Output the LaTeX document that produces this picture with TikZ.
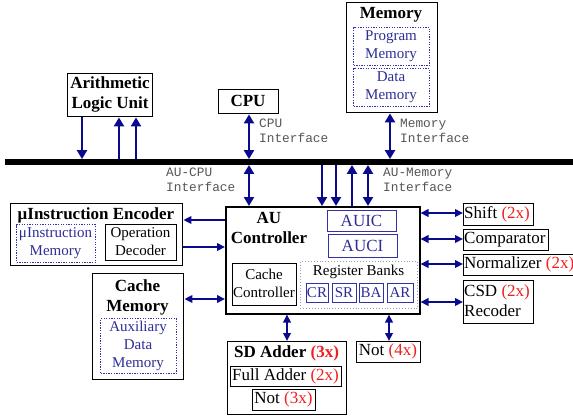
\documentclass[tikz,border=0pt]{standalone}
\usepackage{fontspec}
\setmainfont{Liberation Serif}
\newfontfamily\labelfont{Liberation Mono}
\usetikzlibrary{arrows.meta}
\definecolor{navy}{RGB}{10,10,140}
\definecolor{bluetext}{RGB}{45,45,150}
\definecolor{blueline}{RGB}{50,50,165}
\definecolor{softline}{RGB}{150,150,200}
\definecolor{countred}{RGB}{240,30,30}
\definecolor{labelgray}{RGB}{85,85,85}
\newcommand{\cnt}[1]{\textcolor{countred}{#1}}
\tikzset{
  box/.style={draw=black, line width=1.4pt, inner sep=0pt, anchor=north west},
  bluebox/.style={draw=blueline, line width=1.2pt, inner sep=0pt, anchor=north west},
  dotbox/.style={draw=blueline, line width=1.3pt, dash pattern=on 1.3pt off 1.3pt, inner sep=0pt, anchor=north west},
  softbox/.style={draw=softline, line width=0.9pt, dotted, inner sep=0pt, anchor=north west},
  big/.style={font=\fontsize{17}{20}\selectfont, inner sep=0pt, align=center},
  bigb/.style={font=\fontsize{17}{20}\selectfont\bfseries, inner sep=0pt, align=center},
  small/.style={font=\fontsize{15}{18}\selectfont, inner sep=0pt, align=center},
  smallblue/.style={small, text=bluetext},
  iflabel/.style={font=\fontsize{12.8}{15}\selectfont\labelfont, text=labelgray, inner sep=0pt, align=left, anchor=north west},
  vtip/.style={Triangle[width=10pt,length=9pt]},
  htip/.style={Triangle[width=7.5pt,length=8pt]},
  arr/.style={draw=navy, line width=2.6pt, -{Triangle[width=10pt,length=9pt]}},
  darr/.style={draw=navy, line width=2.6pt, {Triangle[width=10pt,length=9pt]}-{Triangle[width=10pt,length=9pt]}},
  harr/.style={draw=navy, line width=2pt, {Triangle[width=7.5pt,length=8pt]}-{Triangle[width=7.5pt,length=8pt]}},
  harrone/.style={draw=navy, line width=2pt, -{Triangle[width=7.5pt,length=8pt]}},
}
\begin{document}
\begin{tikzpicture}[x=1pt, y=-1pt]
\useasboundingbox (0,0) rectangle (573,416);

% system bus
\node[fill=black, inner sep=0pt, minimum width=568pt, minimum height=5.5pt, anchor=west] (bus) at (5,162) {};

% arithmetic logic unit
\node[box, minimum width=85pt, minimum height=43pt] (alu) at (67,73) {};
\node[bigb] (alut) at (110,94.5) {Arithmetic\\Logic Unit};

% CPU
\node[box, minimum width=60pt, minimum height=24pt] (cpu) at (218,89) {};
\node[bigb] (cput) at (248,101) {CPU};

% memory
\node[box, minimum width=91pt, minimum height=110pt] (mem) at (346,2) {};
\node[bigb] (memt) at (391,15) {Memory};
\node[dotbox, minimum width=76pt, minimum height=38pt] (prog) at (353,27) {};
\node[smallblue] (progt) at (391,46) {Program\\Memory};
\node[dotbox, minimum width=76pt, minimum height=38pt] (data) at (353,68) {};
\node[smallblue] (datat) at (391,87) {Data\\Memory};

% interface labels
\node[iflabel] (cpuif) at (259,119) {CPU\\Interface};
\node[iflabel] (memif) at (400,119) {Memory\\Interface};
\node[iflabel] (aucpuif) at (166,168) {AU-CPU\\Interface};
\node[iflabel] (aumemif) at (383,168) {AU-Memory\\Interface};

% microinstruction encoder
\node[box, minimum width=172pt, minimum height=62pt] (enc) at (10,203) {};
\node[bigb] (enct) at (96,215) {μInstruction Encoder};
\node[dotbox, minimum width=79pt, minimum height=38pt] (umem) at (16,224) {};
\node[smallblue] (umemt) at (55.5,243) {μInstruction\\Memory};
\node[box, line width=1.1pt, minimum width=71pt, minimum height=36pt] (opdec) at (105,224) {};
\node[small] (opdect) at (140.5,242) {Operation\\Decoder};

% cache memory
\node[box, minimum width=91pt, minimum height=106pt] (cache) at (92,273) {};
\node[bigb] (cachet) at (137.5,297) {Cache\\Memory};
\node[dotbox, minimum width=76pt, minimum height=55pt] (aux) at (100,318) {};
\node[smallblue] (auxt) at (138,345.5) {Auxiliary\\Data\\Memory};

% AU controller
\node[box, line width=1.5pt, minimum width=194pt, minimum height=107pt] (au) at (225,206) {};
\node[bigb] (aut) at (269,228) {AU\\Controller};
\node[bluebox, minimum width=69pt, minimum height=21pt] (auic) at (327,210) {};
\node[big, text=bluetext] (auict) at (361.5,220.5) {AUIC};
\node[bluebox, minimum width=69pt, minimum height=23pt] (auci) at (328,234) {};
\node[big, text=bluetext] (aucit) at (362.5,245.5) {AUCI};
\node[box, line width=1.1pt, minimum width=64pt, minimum height=42pt] (cc) at (232,263) {};
\node[small] (cct) at (264,283.5) {Cache\\Controller};
\node[softbox, minimum width=117pt, minimum height=47pt] (rb) at (300,261) {};
\node[small] (rbt) at (358.5,272) {Register Banks};
\node[bluebox, minimum width=22pt, minimum height=19pt] (cr) at (306,283) {};
\node[small, text=bluetext] (crt) at (317,292.5) {CR};
\node[bluebox, minimum width=24pt, minimum height=19pt] (sr) at (332,283) {};
\node[small, text=bluetext] (srt) at (344,292.5) {SR};
\node[bluebox, minimum width=24pt, minimum height=19pt] (ba) at (359,283) {};
\node[small, text=bluetext] (bat) at (371,292.5) {BA};
\node[bluebox, minimum width=26pt, minimum height=19pt] (ar) at (387,283) {};
\node[small, text=bluetext] (art) at (400,292.5) {AR};

% signed-digit adder
\node[box, minimum width=119pt, minimum height=73pt] (sd) at (227,341) {};
\node[bigb] (sdt) at (286.5,353) {SD Adder \cnt{(3x)}};
\node[box, line width=1.1pt, minimum width=111pt, minimum height=20pt] (fa) at (230,366) {};
\node[big] (fat) at (285.5,376) {Full Adder \cnt{(2x)}};
\node[box, line width=1.1pt, minimum width=63pt, minimum height=21pt] (not3) at (252,389) {};
\node[big] (not3t) at (283.5,399.5) {Not \cnt{(3x)}};

% standalone inverters
\node[box, line width=1.1pt, minimum width=64pt, minimum height=21pt] (not4) at (356,341) {};
\node[big] (not4t) at (388,351.5) {Not \cnt{(4x)}};

% peripheral units on the right
\node[box, line width=1.1pt, minimum width=70pt, minimum height=22pt] (shift) at (463,203) {};
\node[big, anchor=west] (shiftt) at (464,214) {Shift \cnt{(2x)}};
\node[box, line width=1.1pt, minimum width=85pt, minimum height=21pt] (comp) at (463,229) {};
\node[big, anchor=west] (compt) at (464,239.5) {Comparator};
\node[box, line width=1.1pt, minimum width=120pt, minimum height=21pt] (norm) at (463,254) {};
\node[big, anchor=west] (normt) at (464,264.5) {Normalizer \cnt{(2x)}};
\node[box, line width=1.1pt, minimum width=70pt, minimum height=43pt] (csd) at (463,280) {};
\node[big, align=left, anchor=west] (csdt) at (464,301) {CSD \cnt{(2x)}\\Recoder};

% bus tap positions
\coordinate (xa) at (82,0);
\coordinate (xb) at (119,0);
\coordinate (xc) at (136,0);
\coordinate (xd) at (249,0);
\coordinate (xe) at (390,0);
\coordinate (xf) at (322,0);
\coordinate (xg) at (336,0);
\coordinate (xh) at (352,0);
\coordinate (xi) at (368,0);
\coordinate (xj) at (287,0);
\coordinate (xk) at (389,0);
% side link heights
\coordinate (ya) at (0,220);
\coordinate (yb) at (0,247);
\coordinate (yc) at (0,299);
\coordinate (yd) at (0,213);
\coordinate (ye) at (0,239);
\coordinate (yf) at (0,264);
\coordinate (yg) at (0,302);

% links above the bus
\draw[arr] (alu.south -| xa) -- (bus.north -| xa);
\draw[arr] (bus.north -| xb) -- (alu.south -| xb);
\draw[arr] (bus.north -| xc) -- (alu.south -| xc);
\draw[darr] (cpu.south -| xd) -- (bus.north -| xd);
\draw[darr] (mem.south -| xe) -- (bus.north -| xe);

% links below the bus
\draw[darr] (bus.south -| xd) -- (au.north -| xd);
\draw[arr] (bus.south -| xf) -- (au.north -| xf);
\draw[arr] (bus.south -| xg) -- (au.north -| xg);
\draw[arr] (au.north -| xh) -- (bus.south -| xh);
\draw[darr] (bus.south -| xi) -- (au.north -| xi);

% links on the left
\draw[harrone] (au.west |- ya) -- (enc.east |- ya);
\draw[harrone] (enc.east |- yb) -- (au.west |- yb);
\draw[harr] (cache.east |- yc) -- (au.west |- yc);

% links on the right
\draw[harr] (au.east |- yd) -- (shift.west |- yd);
\draw[harr] (au.east |- ye) -- (comp.west |- ye);
\draw[harr] (au.east |- yf) -- (norm.west |- yf);
\draw[harr] (au.east |- yg) -- (csd.west |- yg);

% links below the controller
\draw[harr] (au.south -| xj) -- (sd.north -| xj);
\draw[harr] (au.south -| xk) -- (not4.north -| xk);
\end{tikzpicture}
\end{document}
